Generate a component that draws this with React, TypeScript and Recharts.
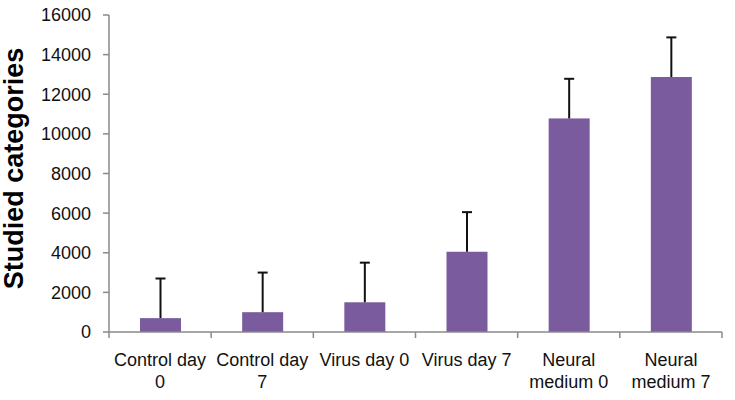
import React from "react";
import { BarChart, Bar, XAxis, YAxis } from "recharts";

const categories = ["Control day 0", "Control day 7", "Virus day 0", "Virus day 7", "Neural medium 0", "Neural medium 7"];
const tickLines = [["Control day", "0"], ["Control day", "7"], ["Virus day 0"], ["Virus day 7"], ["Neural", "medium 0"], ["Neural", "medium 7"]];
const values = [700, 1000, 1500, 4050, 10780, 12870];
const errors = [2000, 2000, 2000, 2000, 2000, 2000];
const yTicks = [0, 2000, 4000, 6000, 8000, 10000, 12000, 14000, 16000];

const data = categories.map((c, i) => ({ name: c, value: values[i], err: errors[i], idx: i }));

const W = 735;
const H = 400;
const LEFT = 109;
const RIGHT_M = 13;
const BAND = (W - LEFT - RIGHT_M) / categories.length;
const AXIS_GRAY = "#8a8a8a";
const PURPLE = "#7a5c9e";
const FONT = "'Liberation Sans', Arial, sans-serif";

const BarWithError = (props: any) => {
  const { x, y, width, height, payload, value } = props;
  const v = Array.isArray(value) ? value[1] - value[0] : value;
  const pxPerUnit = v ? height / v : 0;
  const errPx = payload.err * pxPerUnit;
  const cx = x + width / 2;
  return (
    <g>
      <rect x={x} y={y} width={width} height={height} fill={PURPLE} />
      <line x1={cx} y1={y} x2={cx} y2={y - errPx} stroke="#111" strokeWidth={2} />
      <line x1={cx - 5} y1={y - errPx} x2={cx + 5} y2={y - errPx} stroke="#111" strokeWidth={2} />
    </g>
  );
};

const XTick = (props: any) => {
  const { x, y, payload, index } = props;
  const lines = tickLines[payload.index ?? index] || [payload.value];
  const left = x - BAND / 2;
  const right = x + BAND / 2;
  const axisY = y - 8;
  return (
    <g>
      <line x1={left} y1={axisY} x2={left} y2={axisY + 6} stroke={AXIS_GRAY} strokeWidth={1.5} />
      {index === categories.length - 1 && (
        <line x1={right} y1={axisY} x2={right} y2={axisY + 6} stroke={AXIS_GRAY} strokeWidth={1.5} />
      )}
      {lines.map((l: string, i: number) => (
        <text key={i} x={x} y={axisY + 34 + i * 22} textAnchor="middle" fontFamily={FONT} fontSize={18} fill="#111">
          {l}
        </text>
      ))}
    </g>
  );
};

const YLabel = (props: any) => {
  const vb = props.viewBox || { x: 0, y: 15, width: 109, height: 317 };
  const cx = 14;
  const cy = vb.y + vb.height / 2 - 5;
  return (
    <text
      x={cx}
      y={cy}
      transform={`rotate(-90, ${cx}, ${cy})`}
      textAnchor="middle"
      dominantBaseline="central"
      fontFamily={FONT}
      fontWeight="bold"
      fontSize={27}
      fill="#000"
    >
      Studied categories
    </text>
  );
};

export default function App() {
  return (
    <div style={{ position: "absolute", left: 0, top: 0, width: W, height: H, background: "#fff" }}>
      <BarChart width={W} height={H} data={data} margin={{ top: 15, right: RIGHT_M, left: 0, bottom: 0 }} barSize={41}>
        <XAxis
          dataKey="name"
          height={68}
          stroke={AXIS_GRAY}
          strokeWidth={1.5}
          tickLine={false}
          tick={<XTick />}
          interval={0}
        />
        <YAxis
          width={LEFT}
          domain={[0, 16000]}
          ticks={yTicks}
          interval={0}
          stroke={AXIS_GRAY}
          strokeWidth={1.5}
          tickSize={6}
          tickMargin={12}
          tick={{ fill: "#111", fontSize: 18, fontFamily: FONT }}
          label={<YLabel />}
        />
        <Bar dataKey="value" isAnimationActive={false} shape={<BarWithError />} />
      </BarChart>
    </div>
  );
}
